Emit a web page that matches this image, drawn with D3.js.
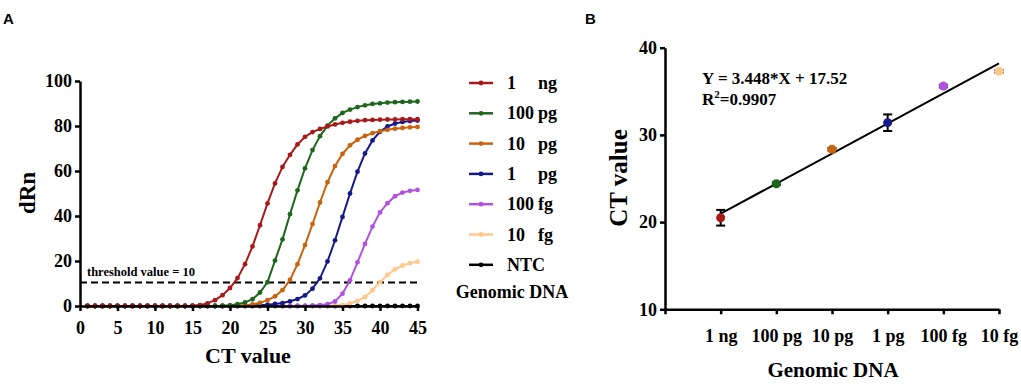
<!DOCTYPE html>
<html>
<head>
<meta charset="utf-8">
<script src="https://cdn.jsdelivr.net/npm/d3@7"></script>
<style>
  body { margin: 0; background: #fff; }
  svg text { font-family: "Liberation Serif", "Times New Roman", serif; font-weight: bold; }
</style>
</head>
<body>
<svg id="chart" width="1021" height="384"></svg>
<script>
// ---- data, panel A (amplification curves) ----
var cycles = d3.range(1, 46);
var seriesNames = ["1 ng", "100 pg", "10 pg", "1 pg", "100 fg", "10 fg", "NTC"];
var seriesNum   = ["1", "100", "10", "1", "100", "10", "NTC"];
var seriesUnit  = ["ng", "pg", "pg", "pg", "fg", "fg", ""];
var seriesColors = ["#a81a1a", "#1c671c", "#c8640e", "#151a8a", "#b052de", "#ffc78c", "#000000"];

var rn_1ng = [0,0,0,0,0,0,0,0,0,0,0,0,0,0,0.1,0.4,1.2,2.6,4.8,8.0,12.4,18.6,26.5,35.9,45.6,54.5,61.8,67.2,71.8,75.2,77.3,78.7,79.8,80.7,81.4,81.9,82.3,82.6,82.7,82.8,82.9,82.9,83.0,83.0,83.0];
var rn_100pg = [0,0,0,0,0,0,0,0,0,0,0,0,0,0,0,0,0,0,0.1,0.3,0.8,1.6,3.0,6.0,10.6,20.2,29.6,40.8,51.4,61.2,69.3,75.5,80.2,83.4,85.8,87.3,88.4,89.2,89.8,90.1,90.4,90.6,90.7,90.8,90.9];
var rn_10pg = [0,0,0,0,0,0,0,0,0,0,0,0,0,0,0,0,0,0,0,0,0.1,0.3,0.7,1.4,2.6,4.3,7.1,11.6,18.6,27.1,36.4,46.0,55.0,62.2,67.6,71.4,73.9,75.6,76.8,77.7,78.3,78.8,79.1,79.4,79.6];
var rn_1pg = [0,0,0,0,0,0,0,0,0,0,0,0,0,0,0,0,0,0,0,0,0,0.1,0.2,0.4,0.6,0.9,1.3,2.1,3.1,4.7,7.7,12.3,19.8,29.2,39.6,50.0,59.7,67.8,73.6,77.4,79.8,81.1,81.8,82.2,82.4];
var rn_100fg = [0,0,0,0,0,0,0,0,0,0,0,0,0,0,0,0,0,0,0,0,0,0,0,0,0,0,0,0,0.05,0.1,0.2,0.4,0.8,2.0,5.5,11.4,19.4,27.6,35.3,41.6,45.7,48.8,50.4,51.2,51.6];
var rn_10fg = [0,0,0,0,0,0,0,0,0,0,0,0,0,0,0,0,0,0,0,0,0,0,0,0,0,0,0,0,0,0,0,0.05,0.1,0.2,0.4,1.2,2.3,4.0,7.0,10.6,13.8,16.3,18.0,19.1,19.7];
var rn_ntc = [0,0,0,0,0,0,0,0,0,0,0,0,0,0,0,0,0,0,0,0,0,0,0,0,0,0,0,0,0,0,0,0,0,0,0,0,0,0,0,0,0,0,0,0,0];
var seriesValues = [rn_1ng, rn_100pg, rn_10pg, rn_1pg, rn_100fg, rn_10fg, rn_ntc];
var threshold = 10.5;
var xTicksA = [0,5,10,15,20,25,30,35,40,45];
var yTicksA = [0,20,40,60,80,100];

// ---- data, panel B (standard curve) ----
var dnaLabels = ["1 ng", "100 pg", "10 pg", "1 pg", "100 fg", "10 fg"];
var dnaX = [1,2,3,4,5,6];
var ctMean = [20.5, 24.4, 28.35, 31.4, 35.6, 37.3];
var ctSD = [0.9, 0.15, 0.15, 0.95, 0.15, 0.15];
var fitSlope = 3.448, fitIntercept = 17.52;
var yTicksB = [10,20,30,40];

var serif = "'Liberation Serif', 'Times New Roman', serif";
var svg = d3.select("#chart");

// panel letters
svg.append("text").attr("x", 3).attr("y", 24)
  .style("font-family", "'Liberation Sans', Arial, sans-serif").style("font-size", "15px").text("A");
svg.append("text").attr("x", 585).attr("y", 24)
  .style("font-family", "'Liberation Sans', Arial, sans-serif").style("font-size", "15px").text("B");

// ================= panel A =================
var x = d3.scaleLinear().domain([0, 45]).range([80, 417.5]);
var y = d3.scaleLinear().domain([0, 100]).range([306, 81]);

var gA = svg.append("g");

var xAxis = d3.axisBottom(x).tickValues(xTicksA).tickSize(5).tickSizeOuter(0).tickPadding(10);
var yAxis = d3.axisLeft(y).tickValues(yTicksA).tickSize(5).tickSizeOuter(0).tickPadding(3);

function styleAxis(g) {
  g.attr("font-family", serif).attr("font-size", 18).attr("font-weight", "bold");
  g.select(".domain").attr("stroke-width", 2.5);
  g.selectAll(".tick line").attr("stroke-width", 2.5);
  g.selectAll(".tick text").style("font-size", "18px")
    .style("font-family", serif).style("font-weight", "bold");
}

// threshold
gA.append("line")
  .attr("x1", x(0)).attr("x2", x(45))
  .attr("y1", y(threshold)).attr("y2", y(threshold))
  .attr("stroke", "#000").attr("stroke-width", 2).attr("stroke-dasharray", "7,4");
gA.append("text").attr("x", 87).attr("y", 276).style("font-size", "12.5px").text("threshold value = 10");

var line = d3.line()
  .x(function(d, i) { return x(cycles[i]); })
  .y(function(d) { return y(d); });

// draw NTC first so 1 ng ends on top
for (var s = seriesValues.length - 1; s >= 0; s--) {
  var gs = gA.append("g");
  gs.append("path").datum(seriesValues[s])
    .attr("d", line).attr("fill", "none")
    .attr("stroke", seriesColors[s]).attr("stroke-width", 2);
  gs.selectAll("circle").data(seriesValues[s]).enter().append("circle")
    .attr("cx", function(d, i) { return x(cycles[i]); })
    .attr("cy", function(d) { return y(d); })
    .attr("r", 2.4).attr("fill", seriesColors[s]);
}

gA.append("g").attr("transform", "translate(0," + y(0) + ")").call(xAxis).call(styleAxis);
gA.append("g").attr("transform", "translate(" + x(0) + ",0)").call(yAxis).call(styleAxis);

gA.append("text").attr("x", 248).attr("y", 363).attr("text-anchor", "middle")
  .style("font-size", "22px").text("CT value");
gA.append("text").attr("transform", "translate(35,193) rotate(-90)").attr("text-anchor", "middle")
  .style("font-size", "23px").text("dRn");

// legend
var leg = gA.append("g");
seriesNames.forEach(function(name, i) {
  var ly = 83 + i * 30.3;
  leg.append("line").attr("x1", 469).attr("x2", 493).attr("y1", ly).attr("y2", ly)
    .attr("stroke", seriesColors[i]).attr("stroke-width", 2.5);
  leg.append("circle").attr("cx", 481).attr("cy", ly).attr("r", 2.4).attr("fill", seriesColors[i]);
  leg.append("text").attr("x", 507).attr("y", ly + 6).style("font-size", "18px").text(seriesNum[i]);
  if (seriesUnit[i]) leg.append("text").attr("x", 538).attr("y", ly + 6).style("font-size", "18px").text(seriesUnit[i]);
});
leg.append("text").attr("x", 512).attr("y", 298).attr("text-anchor", "middle")
  .style("font-size", "18px").text("Genomic DNA");

// ================= panel B =================
var xb = d3.scaleLinear().domain([0, 6]).range([665, 999]);
var yb = d3.scaleLinear().domain([10, 40]).range([309.3, 47.7]);
var gB = svg.append("g");

var xAxisB = d3.axisBottom(xb).tickValues([0,1,2,3,4,5,6]).tickSize(5).tickSizeOuter(0).tickPadding(15)
  .tickFormat(function(d) { return d === 0 ? "" : dnaLabels[d - 1]; });
var yAxisB = d3.axisLeft(yb).tickValues(yTicksB).tickSize(5).tickSizeOuter(0).tickPadding(3);

gB.append("g").attr("transform", "translate(0," + yb(10) + ")").call(xAxisB).call(styleAxis);
gB.append("g").attr("transform", "translate(" + xb(0) + ",0)").call(yAxisB).call(styleAxis);

// fit line
gB.append("line")
  .attr("x1", xb(dnaX[0])).attr("y1", yb(fitSlope * dnaX[0] + fitIntercept))
  .attr("x2", xb(dnaX[5])).attr("y2", yb(fitSlope * dnaX[5] + fitIntercept))
  .attr("stroke", "#000").attr("stroke-width", 2);

// error bars + points
dnaX.forEach(function(d, i) {
  var cx = xb(d);
  var top = yb(ctMean[i] + ctSD[i]), bot = yb(ctMean[i] - ctSD[i]);
  gB.append("line").attr("x1", cx).attr("x2", cx).attr("y1", top).attr("y2", bot)
    .attr("stroke", "#000").attr("stroke-width", 2);
  [top, bot].forEach(function(yy) {
    gB.append("line").attr("x1", cx - 4.5).attr("x2", cx + 4.5).attr("y1", yy).attr("y2", yy)
      .attr("stroke", "#000").attr("stroke-width", 2);
  });
  gB.append("circle").attr("cx", cx).attr("cy", yb(ctMean[i])).attr("r", 4.5).attr("fill", seriesColors[i]);
});

gB.append("text").attr("x", 702).attr("y", 84).style("font-size", "17px").text("Y = 3.448*X + 17.52");
var r2 = gB.append("text").attr("x", 702).attr("y", 105).style("font-size", "17px");
r2.append("tspan").text("R");
r2.append("tspan").attr("dy", -7).style("font-size", "11px").text("2");
r2.append("tspan").attr("dy", 7).text("=0.9907");

gB.append("text").attr("x", 833).attr("y", 377).attr("text-anchor", "middle")
  .style("font-size", "21px").text("Genomic DNA");
gB.append("text").attr("transform", "translate(627,178) rotate(-90)").attr("text-anchor", "middle")
  .style("font-size", "25px").text("CT value");
</script>
</body>
</html>
